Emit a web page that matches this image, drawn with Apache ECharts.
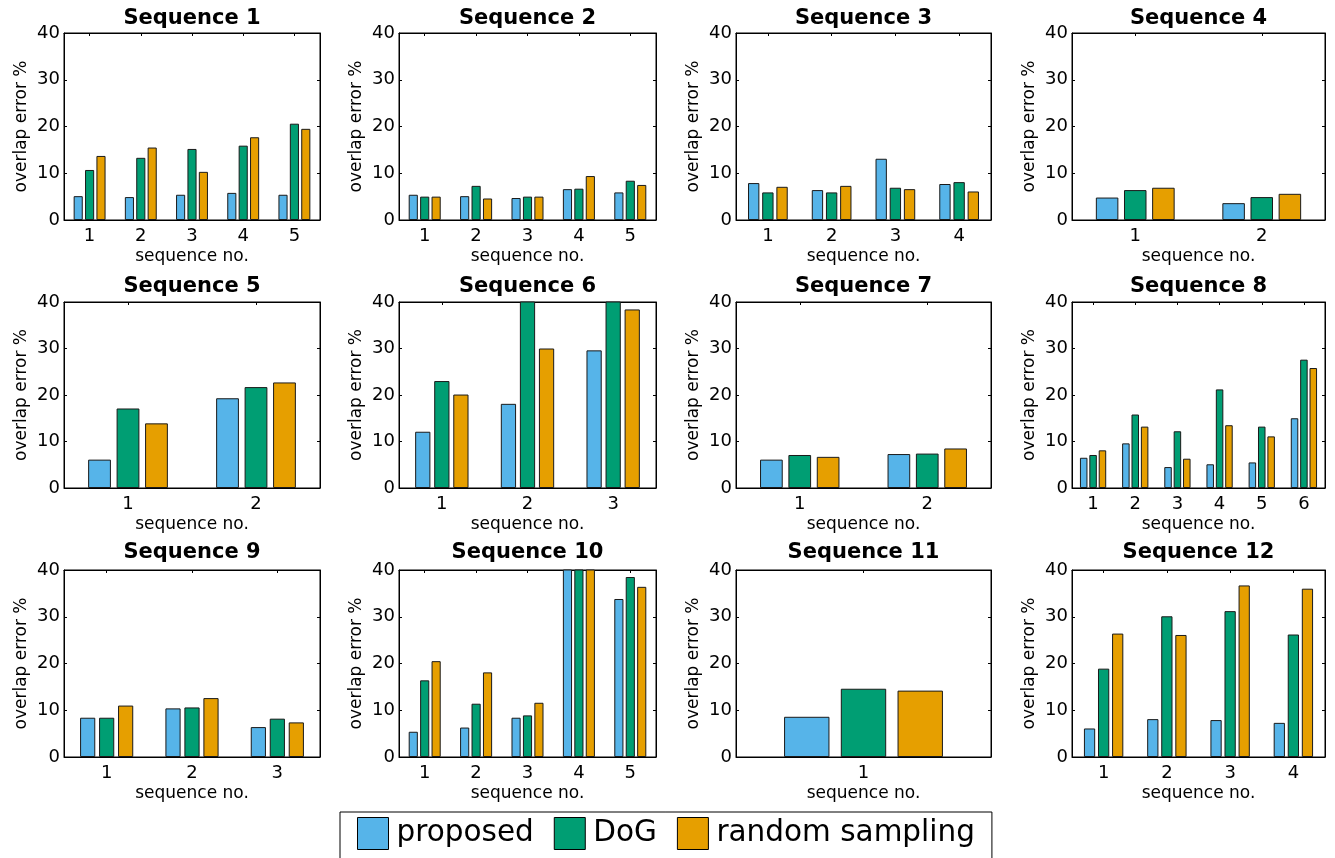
<!DOCTYPE html>
<html>
<head>
<meta charset="utf-8">
<script src="https://cdn.jsdelivr.net/npm/echarts@6/dist/echarts.min.js"></script>
<style>
  html, body { margin: 0; padding: 0; background: #fff; }
  #chart { width: 1335px; height: 858px; }
</style>
</head>
<body>
<div id="chart"></div>
<script>
// ---------------- data ----------------
const seqTitles = ['Sequence 1', 'Sequence 2', 'Sequence 3', 'Sequence 4',
                   'Sequence 5', 'Sequence 6', 'Sequence 7', 'Sequence 8',
                   'Sequence 9', 'Sequence 10', 'Sequence 11', 'Sequence 12'];
const seqCategories = [
  ['1', '2', '3', '4', '5'],
  ['1', '2', '3', '4', '5'],
  ['1', '2', '3', '4'],
  ['1', '2'],
  ['1', '2'],
  ['1', '2', '3'],
  ['1', '2'],
  ['1', '2', '3', '4', '5', '6'],
  ['1', '2', '3'],
  ['1', '2', '3', '4', '5'],
  ['1'],
  ['1', '2', '3', '4']
];
const seriesNames = ['proposed', 'DoG', 'random sampling'];
// values above 40 are off the scale in the original (clipped at the top)
const proposed = [
  [5.1, 4.9, 5.4, 5.8, 5.4],
  [5.4, 5.1, 4.7, 6.6, 5.9],
  [7.9, 6.4, 13.1, 7.7],
  [4.8, 3.6],
  [6.1, 19.3],
  [12.1, 18.1, 29.6],
  [6.1, 7.3],
  [6.5, 9.6, 4.5, 5.1, 5.5, 15.0],
  [8.4, 10.4, 6.4],
  [5.4, 6.3, 8.4, 45, 33.8],
  [8.6],
  [6.1, 8.1, 7.9, 7.3]
];
const dog = [
  [10.7, 13.3, 15.2, 15.9, 20.6],
  [5.0, 7.3, 5.0, 6.7, 8.4],
  [5.9, 5.9, 6.9, 8.1],
  [6.4, 4.9],
  [17.1, 21.7],
  [23.0, 42, 44],
  [7.1, 7.4],
  [7.1, 15.8, 12.2, 21.2, 13.2, 27.6],
  [8.4, 10.6, 8.2],
  [16.4, 11.4, 8.9, 47, 38.5],
  [14.6],
  [18.9, 30.1, 31.2, 26.2]
];
const randomSampling = [
  [13.7, 15.5, 10.3, 17.7, 19.5],
  [5.0, 4.6, 5.0, 9.4, 7.5],
  [7.1, 7.3, 6.6, 6.1],
  [6.9, 5.6],
  [13.9, 22.7],
  [20.1, 30.0, 38.4],
  [6.7, 8.5],
  [8.1, 13.2, 6.3, 13.5, 11.1, 25.8],
  [11.0, 12.6, 7.4],
  [20.5, 18.1, 11.6, 46, 36.4],
  [14.2],
  [26.4, 26.1, 36.7, 36.0]
];
const yTicks = [0, 10, 20, 30, 40];
const xAxisName = 'sequence no.';
const yAxisName = 'overlap error %';

// ---------------- layout / style ----------------
const colLeft = [64, 399, 736, 1072];
const colWidth = [256, 257, 255, 253];
const rowTop = [33, 302, 570];
const rowHeight = [187, 186, 187];
const titleTop = [8, 276, 542];
const colors = ['#56B4E9', '#009E73', '#E69F00'];
const FONT = 'DejaVu Sans';

const valuesBySeries = [proposed, dog, randomSampling];

const grids = [], xAxes = [], yAxes = [], titles = [], series = [];

for (let i = 0; i < 12; i++) {
  const r = Math.floor(i / 4), c = i % 4;
  const left = colLeft[c], top = rowTop[r], w = colWidth[c], h = rowHeight[r];
  grids.push({
    left: left, top: top, width: w, height: h,
    show: true, borderColor: '#000', borderWidth: 1,
    backgroundColor: 'transparent',
    containLabel: false, outerBoundsMode: 'none'
  });
  titles.push({
    text: seqTitles[i],
    left: left + w / 2,
    top: titleTop[r],
    textAlign: 'center',
    padding: 0,
    textStyle: { fontFamily: FONT, fontWeight: 'bold', fontSize: 21, color: '#000' }
  });

  xAxes.push({
    type: 'category', gridIndex: i, position: 'bottom',
    data: seqCategories[i], boundaryGap: true,
    axisLine: { show: true, onZero: false, lineStyle: { color: '#000', width: 1 } },
    axisTick: { show: true, inside: true, alignWithLabel: true, length: 3, lineStyle: { color: '#000' } },
    axisLabel: { color: '#000', fontSize: 18, fontFamily: FONT, margin: 7 },
    splitLine: { show: false },
    name: xAxisName, nameLocation: 'middle', nameGap: 28,
    nameTextStyle: { color: '#000', fontSize: 17, fontFamily: FONT }
  });
  xAxes.push({
    type: 'category', gridIndex: i, position: 'top',
    data: seqCategories[i], boundaryGap: true,
    axisLine: { show: true, onZero: false, lineStyle: { color: '#000', width: 1 } },
    axisTick: { show: true, inside: true, alignWithLabel: true, length: 3, lineStyle: { color: '#000' } },
    axisLabel: { show: false },
    splitLine: { show: false }
  });
  yAxes.push({
    type: 'value', gridIndex: i, position: 'left',
    min: yTicks[0], max: yTicks[yTicks.length - 1], interval: yTicks[1] - yTicks[0],
    axisLine: { show: true, onZero: false, lineStyle: { color: '#000', width: 1 } },
    axisTick: { show: true, inside: true, length: 3, lineStyle: { color: '#000' } },
    axisLabel: { color: '#000', fontSize: 18, fontFamily: FONT, margin: 4 },
    splitLine: { show: false },
    name: yAxisName, nameLocation: 'middle', nameGap: 34, nameRotate: 90,
    nameTextStyle: { color: '#000', fontSize: 17, fontFamily: FONT }
  });
  yAxes.push({
    type: 'value', gridIndex: i, position: 'right',
    min: yTicks[0], max: yTicks[yTicks.length - 1], interval: yTicks[1] - yTicks[0],
    axisLine: { show: true, onZero: false, lineStyle: { color: '#000', width: 1 } },
    axisTick: { show: true, inside: true, length: 3, lineStyle: { color: '#000' } },
    axisLabel: { show: false },
    splitLine: { show: false }
  });

  for (let s = 0; s < 3; s++) {
    series.push({
      type: 'bar',
      name: seriesNames[s],
      xAxisIndex: 2 * i,
      yAxisIndex: 2 * i,
      data: valuesBySeries[s][i],
      barWidth: '17.8%',
      barGap: '25%',
      clip: true,
      silent: true,
      itemStyle: { color: colors[s], borderColor: '#1a1a1a', borderWidth: 1 }
    });
  }
}

const option = {
  animation: false,
  backgroundColor: '#ffffff',
  textStyle: { fontFamily: FONT },
  title: titles,
  grid: grids,
  xAxis: xAxes,
  yAxis: yAxes,
  legend: {
    data: seriesNames,
    left: 340, top: 812,
    orient: 'horizontal',
    icon: 'rect',
    itemWidth: 31, itemHeight: 32, itemGap: 20,
    padding: [5, 17, 20, 17],
    borderColor: '#000', borderWidth: 1,
    backgroundColor: '#fff',
    itemStyle: { borderColor: '#000', borderWidth: 1 },
    textStyle: { fontSize: 29.5, color: '#000', fontFamily: FONT, padding: [0, 0, 0, 3] }
  },
  series: series
};

const chart = echarts.init(document.getElementById('chart'), null, { renderer: 'canvas' });
chart.setOption(option);
</script>
</body>
</html>
